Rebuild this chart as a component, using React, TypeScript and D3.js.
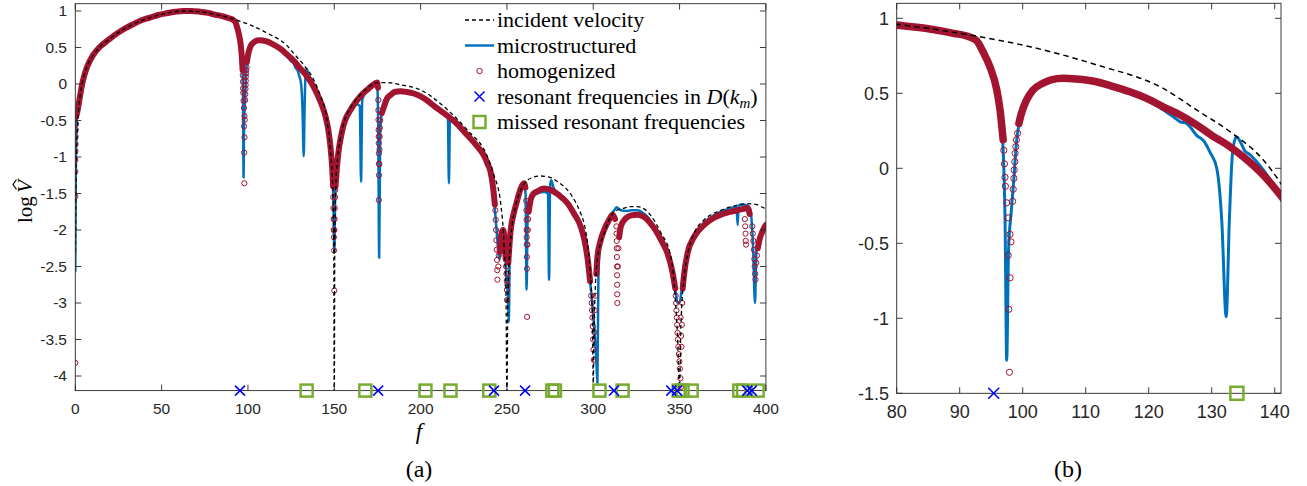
import React from "react";
import * as d3 from "d3";

// ---------------- data ----------------
const incF = [0.1,0.5,1,2,3,4.5,6.6,10,14.3,20,24,33.6,43.3,53,62.6,72.3,80,85,91.6,101.2,111.7,122.3,127.6,132.9,138.2,141.1,145.8,147.7,149.1,149.7,150,
  150.3,150.9,152,153.5,156.4,159.3,165,169,175,181,188,199.9,213.5,227,238.6,242.5,246.3,248.3,249.5,250,
  250.5,252,255,258,261.8,265,269.5,275,280,285,290,292.7,295.5,298,299.5,300,
  300.6,302.4,306.3,312.2,318,321.7,325.6,333.3,339,345,347,348.7,350,
  350.8,352.7,355,358.5,364.3,373.9,383.6,389,394,399,400];
const incV = [-2.3,-1.2,-0.75,-0.33,-0.13,0.06,0.23,0.38,0.51,0.62,0.69,0.82,0.91,0.97,1.0,0.99,0.96,0.933,0.889,0.81,0.69,0.533,0.389,0.244,0.055,-0.11,-0.5,-0.9,-1.4,-2.2,-4.5,
  -2.2,-1.4,-1.0,-0.75,-0.47,-0.33,-0.15,-0.06,0.02,0.02,-0.01,-0.08,-0.31,-0.63,-0.99,-1.25,-1.62,-2.2,-3.0,-4.5,
  -3.0,-2.18,-1.68,-1.45,-1.32,-1.28,-1.26,-1.28,-1.35,-1.45,-1.63,-1.77,-2.0,-2.5,-3.2,-4.1,
  -3.2,-2.4,-2.05,-1.75,-1.7,-1.68,-1.68,-1.8,-2.03,-2.37,-2.78,-3.4,-4.15,
  -3.3,-2.64,-2.3,-2.04,-1.86,-1.73,-1.66,-1.64,-1.65,-1.7,-1.71];

const microF = [0,0.3,0.6,1.2,2.7,4,6.6,10.4,14.3,19,24,33.6,43.3,53,62.6,72.3,80,85,89,91.6,92.7,93.7,94.8,95.9,96.4,96.9,97.2,97.46,97.75,98.2,98.6,99.0,99.4,100.6,101.6,103.2,106.4,111.7,117,120,122.3,124,125,126,127.6,128.8,129.7,130.8,131.6,132.3,132.8,133.3,133.9,134.5,135.2,136.1,138.2,141.1,
  143,145,146.5,147.8,148.8,149.5,150,150.5,151.6,152.5,153.5,155,156.4,159.3,162,163.5,164.8,165.5,166.2,169,172,174.8,175.4,176,176.6,177.5,178.8,180.5,182.6,188.4,196,200,207.7,213.5,215.8,216.4,217,220,227,232,236.7,238.2,239,240.5,242,243.5,245.8,246.8,247.8,248.8,249.7,250.5,251.1,251.6,252.2,254,256,258,259.9,260.8,261.4,262,263.7,265.5,267.6,271.5,273.8,274.4,275,275.6,277,280,285,289,292.7,295,296.6,298.5,300.5,301.8,302.4,303,304.3,306.3,309.2,311.2,312.5,313.5,316,318.9,322,325.6,328.5,331.4,334.5,337.3,340,343,346,347.5,348.8,350,351.3,352.7,354.6,358.5,364.3,373.9,380,383,383.6,384.2,385,389,391,392.5,393.7,394.5,396.2,398,400];
const microV = [-2.58,-1.2,-0.5,-0.38,-0.17,0,0.22,0.4,0.51,0.6,0.69,0.82,0.91,0.97,1.0,0.99,0.955,0.93,0.9,0.875,0.85,0.77,0.665,0.5,0.36,0.12,-0.35,-1.28,-0.55,-0.28,-0.07,0.17,0.29,0.45,0.515,0.565,0.597,0.57,0.5,0.45,0.39,0.34,0.31,0.3,0.22,0.18,0.11,0.0,-0.35,-0.99,-0.35,0.1,0.21,0.18,0.12,0.09,-0.01,-0.19,
  -0.3,-0.45,-0.62,-0.86,-1.15,-1.6,-2.3,-1.6,-1.13,-0.92,-0.77,-0.6,-0.49,-0.36,-0.26,-0.28,-0.3,-1.34,-0.22,-0.08,-0.02,0.01,-0.5,-2.38,-0.7,-0.4,-0.31,-0.2,-0.15,-0.1,-0.13,-0.17,-0.3,-0.4,-0.43,-1.36,-0.47,-0.52,-0.7,-0.83,-0.98,-1.12,-1.08,-1.2,-1.42,-1.85,-2.41,-2.05,-2.0,-2.2,-2.6,-2.9,-3.26,-2.35,-2.0,-1.77,-1.59,-1.43,-1.36,-1.5,-2.82,-1.8,-1.6,-1.53,-1.5,-1.48,-1.5,-2.68,-1.4,-1.32,-1.42,-1.52,-1.63,-1.78,-1.95,-2.15,-2.37,-2.78,-3.3,-3.8,-4.1,-2.6,-2.14,-2.0,-1.86,-1.76,-1.72,-1.69,-1.73,-1.74,-1.73,-1.73,-1.76,-1.82,-1.93,-2.05,-2.17,-2.32,-2.59,-2.8,-3.0,-3.0,-2.8,-2.59,-2.32,-2.07,-1.9,-1.75,-1.7,-1.68,-1.93,-1.68,-1.65,-1.66,-1.72,-2.2,-3.0,-2.3,-2.14,-2.02,-1.93];

// homogenized: dense markers forming a band (NaN = band interrupted at a dip)
const homF = [0.4,1.2,2,2.7,4,5,6.6,8.5,10.4,14.3,19,24,28,33.6,38,43.3,48,53,58,62.6,67,72.3,77,80,85,89,91.6,92.7,93.7,94.8,95.9,96.4,96.9,97.5,
  99.4,99.8,100.6,101.6,103.2,104.5,106.4,108.5,111.7,114,117,120,122.3,125,127.6,130,132.9,135.5,138.2,141.1,143,145,146.5,147.8,148.8,149.3,150,
  150.7,151.6,152.5,153.5,155,156.4,159.3,162,165,169,172,174.8,175.3,175.8,
  177.5,178.8,180.5,182.6,185,188.4,192,196,200,204,207.7,213.5,220,227,232,236.7,239,240.5,242,243,244,
  245.8,246.8,247.8,248.8,249.3,249.8,250.8,252,254,256,258,259.9,260.7,261.1,
  262.6,263.7,265.5,267.6,271.5,275.3,280,285,289,292.7,295,296.6,298.2,299,
  301.8,302.4,304.3,306.3,309.2,311.2,312.6,313.2,315,316,318.9,322,325.6,328.5,331.4,334.5,337.3,340,343,346,347.5,348,
  351.8,352.7,354.6,358.5,364.3,368,373.9,378,383.6,387,389.4,390.6,391.2,395.3,396.2,398,399,400];
const homV = [-0.45,-0.38,-0.27,-0.17,0.0,0.1,0.22,0.32,0.4,0.51,0.6,0.69,0.75,0.82,0.87,0.91,0.945,0.97,0.99,1.0,1.0,0.99,0.975,0.955,0.93,0.9,0.875,0.85,0.777,0.677,0.52,0.39,0.19,NaN,
  0.3,0.366,0.455,0.52,0.567,0.59,0.6,0.595,0.577,0.55,0.51,0.46,0.41,0.355,0.29,0.22,0.144,0.06,-0.045,-0.19,-0.3,-0.45,-0.62,-0.86,-1.15,-1.4,NaN,
  -1.4,-1.13,-0.92,-0.77,-0.6,-0.49,-0.36,-0.26,-0.17,-0.08,-0.02,0.02,-0.05,NaN,
  -0.4,-0.31,-0.2,-0.15,-0.11,-0.1,-0.11,-0.13,-0.17,-0.23,-0.3,-0.4,-0.52,-0.7,-0.83,-0.98,-1.1,-1.2,-1.42,-1.65,NaN,
  -2.3,-2.05,-2.0,-2.2,-2.4,NaN,-2.45,-2.04,-1.77,-1.59,-1.43,-1.36,-1.42,NaN,
  -1.75,-1.59,-1.5,-1.47,-1.43,-1.45,-1.52,-1.63,-1.78,-1.95,-2.15,-2.37,-2.7,NaN,
  -2.6,-2.37,-2.14,-2.0,-1.86,-1.79,-1.85,NaN,-2.1,-1.95,-1.84,-1.8,-1.79,-1.81,-1.86,-1.95,-2.05,-2.17,-2.32,-2.59,-2.8,NaN,
  -2.8,-2.59,-2.32,-2.09,-1.93,-1.86,-1.79,-1.76,-1.73,-1.71,-1.7,-1.78,NaN,-2.25,-2.14,-2.02,-1.97,-1.93];

// homogenized markers that stand apart in the dips
const homDipF = [0,0,0.03,0.06,0.1,0.14,0.2,0.26,0.33,
  97.0,97.1,97.19,97.25,97.45,97.7,97.98,98.14,97.7,98.0,97.8,97.9,98.4,98.5,98.6,98.65,98.75,98.8,98.9,99.0,99.2,
  149.4,149.5,149.6,149.7,149.8,149.9,150,150.1,150.2,150.3,150.45,150.6,
  175.5,175.55,175.6,175.65,175.7,175.75,175.8,175.85,175.9,175.8,176.1,176.2,176.3,176.4,176.6,
  243.3,243.5,243.7,243.9,244.1,244.3,244.4,244.5,245,245.3,
  249.5,249.7,249.9,250,250.1,250.3,250.5,
  261.2,261.3,261.35,261.4,261.45,261.5,261.55,261.6,261.7,261.9,262.1,262.3,
  298.8,299.1,299.3,299.5,299.7,299.9,300.1,300.3,300.6,300.9,301.2,
  313.4,313.5,313.6,313.65,313.7,313.75,313.8,313.85,313.9,313.95,314.3,314.6,
  347.8,348,348.2,348.4,348.6,348.8,349,349.3,349.6,349.9,350.2,350.5,350.8,351.1,351.3,351.5,350.9,350.6,
  387.8,388,388.2,388.3,388.5,
  392.1,392.4,392.7,393,393.3,393.5,393.8,394,394.4,394.8];
const homDipV = [-3.82,-1.54,-1.2,-1.04,-0.92,-0.82,-0.72,-0.63,-0.55,
  0.12,0.03,-0.06,-0.12,-0.23,-0.33,-0.44,-0.49,-0.58,-0.73,-0.94,-1.36,-0.22,-0.14,-0.067,-0.011,0.044,0.1,0.144,0.19,0.233,
  -1.55,-1.7,-1.85,-2.0,-2.1,-2.28,-2.83,-2.0,-1.85,-1.7,-1.55,-1.45,
  -0.22,-0.36,-0.49,-0.63,-0.72,-0.81,-0.95,-1.09,-1.25,-1.59,-1.1,-0.9,-0.72,-0.6,-0.5,
  -1.73,-1.86,-2.0,-2.14,-2.27,-2.41,-2.55,-2.68,-2.5,-2.35,
  -2.5,-2.6,-2.7,-2.82,-2.96,-2.75,-2.6,
  -1.6,-1.73,-1.86,-2.0,-2.1,-2.2,-2.37,-2.53,-3.19,-2.2,-2.0,-1.85,
  -2.9,-3.0,-3.1,-3.2,-3.32,-3.5,-3.64,-3.78,-3.4,-3.1,-2.9,
  -1.95,-2.05,-2.15,-2.25,-2.37,-2.5,-2.62,-2.75,-2.88,-3.0,-2.5,-2.25,
  -2.9,-3.0,-3.1,-3.2,-3.3,-3.41,-3.5,-3.6,-3.7,-3.8,-3.9,-4.03,-4.15,-3.6,-3.3,-3.0,-3.45,-3.2,
  -1.85,-1.95,-2.05,-2.15,-2.2,
  -1.95,-2.05,-2.15,-2.27,-2.4,-2.5,-2.6,-2.68,-2.45,-2.35];

const resonantF = [95.4,175.4,242.5,260.5,312,345.2,348.6,389.2,391.8];
const missedF = [134.0,168.0,202.8,217.3,239.8,276.3,277.8,303.6,317.0,349.5,351.7,357.0,384.6,386.8,395.2];

const xTicksA = [0,50,100,150,200,250,300,350,400];
const yTicksA = [-4,-3.5,-3,-2.5,-2,-1.5,-1,-0.5,0,0.5,1];
const xTicksB = [80,90,100,110,120,130,140];
const yTicksB = [-1.5,-1,-0.5,0,0.5,1];

const legendLabels = ["incident velocity","microstructured","homogenized","resonant frequencies in ","missed resonant frequencies"];

// ---------------- colours ----------------
const BLUE = "#0072BD";
const RED = "#A2142F";
const GREEN = "#77AC30";
const XBLUE = "#0000FF";
const AX = "#262626";

type P = {
  id: string; left: number; right: number; top: number; bottom: number;
  xDom: [number, number]; yDom: [number, number];
  xTicks: number[]; yTicks: number[];
  font: number; bandW: number; r: number; blueW: number; dashW: number; dash: string;
  xLabY: number; yLabX: number; mS: number; xS: number;
};

function fmt(v: number) { return String(v); }

function Panel(p: P) {
  const x = d3.scaleLinear().domain(p.xDom).range([p.left, p.right]);
  const y = d3.scaleLinear().domain(p.yDom).range([p.bottom, p.top]);
  const line = d3.line<[number, number]>()
    .defined(d => Number.isFinite(d[1]))
    .x(d => x(d[0])).y(d => y(d[1]))
    .curve(d3.curveMonotoneX);
  const zip = (F: number[], V: number[]) => F.map((f, i) => [f, V[i]] as [number, number]);
  const inc = line(zip(incF, incV)) || "";
  const mic = line(zip(microF, microV)) || "";
  const hom = line(zip(homF, homV)) || "";
  const dips = zip(homDipF, homDipV).filter(d => d[0] >= p.xDom[0] && d[0] <= p.xDom[1] && d[1] >= p.yDom[0] && d[1] <= p.yDom[1]);
  const yb = p.yDom[0];
  const res = resonantF.filter(f => f >= p.xDom[0] && f <= p.xDom[1]);
  const mis = missedF.filter(f => f >= p.xDom[0] && f <= p.xDom[1]);
  const tl = 6;
  const s = p.xS / 2;
  return (
    <g>
      <defs>
        <clipPath id={p.id}>
          <rect x={p.left} y={p.top} width={p.right - p.left} height={p.bottom - p.top} />
        </clipPath>
      </defs>
      <g clipPath={`url(#${p.id})`}>
        <path d={mic} fill="none" stroke={BLUE} strokeWidth={p.blueW} strokeLinejoin="round" />
        <path d={hom} fill="none" stroke={RED} strokeWidth={p.bandW} strokeLinejoin="round" strokeLinecap="round" />
        {dips.map((d, i) => (
          <circle key={i} cx={x(d[0])} cy={y(d[1])} r={p.r} fill="none" stroke={RED} strokeWidth={1} />
        ))}
        <path d={inc} fill="none" stroke="#000" strokeWidth={p.dashW} strokeDasharray={p.dash} />
      </g>
      <rect x={p.left} y={p.top} width={p.right - p.left} height={p.bottom - p.top} fill="none" stroke={AX} strokeWidth={0.9} />
      {p.xTicks.map(t => (
        <g key={"x" + t}>
          <line x1={x(t)} x2={x(t)} y1={p.bottom} y2={p.bottom - tl} stroke={AX} strokeWidth={0.9} />
          <line x1={x(t)} x2={x(t)} y1={p.top} y2={p.top + tl} stroke={AX} strokeWidth={0.9} />
          <text x={x(t)} y={p.xLabY} textAnchor="middle" fontSize={p.font} fontFamily="Liberation Sans, Arial, sans-serif" fill={AX}>{fmt(t)}</text>
        </g>
      ))}
      {p.yTicks.map(t => (
        <g key={"y" + t}>
          <line x1={p.left} x2={p.left + tl} y1={y(t)} y2={y(t)} stroke={AX} strokeWidth={0.9} />
          <line x1={p.right} x2={p.right - tl} y1={y(t)} y2={y(t)} stroke={AX} strokeWidth={0.9} />
          <text x={p.yLabX} y={y(t)} dy="0.35em" textAnchor="end" fontSize={p.font} fontFamily="Liberation Sans, Arial, sans-serif" fill={AX}>{fmt(t)}</text>
        </g>
      ))}
      {mis.map((f, i) => (
        <rect key={"m" + i} x={x(f) - p.mS / 2} y={y(yb) - p.mS / 2} width={p.mS} height={p.mS} fill="none" stroke={GREEN} strokeWidth={2.5} />
      ))}
      {res.map((f, i) => (
        <path key={"r" + i} d={`M${x(f) - s},${y(yb) - s}L${x(f) + s},${y(yb) + s}M${x(f) - s},${y(yb) + s}L${x(f) + s},${y(yb) - s}`} stroke={XBLUE} strokeWidth={1.5} fill="none" />
      ))}
    </g>
  );
}

function Legend() {
  const x0 = 465, x1 = 494, tx = 497;
  const rows = legendLabels.map((_, i) => 20 + 25.5 * i);
  const serif = "Liberation Serif, Times New Roman, serif";
  const xm = (x0 + x1) / 2;
  return (
    <g fontFamily={serif} fontSize={22} fill="#000">
      <line x1={x0} x2={x1} y1={rows[0]} y2={rows[0]} stroke="#000" strokeWidth={1.3} strokeDasharray="4,3" />
      <line x1={x0} x2={x1} y1={rows[1]} y2={rows[1]} stroke={BLUE} strokeWidth={2.5} />
      <circle cx={xm} cy={rows[2]} r={2.7} fill="none" stroke={RED} strokeWidth={1} />
      <path d={`M${xm - 5},${rows[3] - 5}L${xm + 5},${rows[3] + 5}M${xm - 5},${rows[3] + 5}L${xm + 5},${rows[3] - 5}`} stroke={XBLUE} strokeWidth={1.5} />
      <rect x={xm - 6} y={rows[4] - 6} width={12} height={12} fill="none" stroke={GREEN} strokeWidth={2.5} />
      {legendLabels.map((l, i) => (
        <text key={i} x={tx} y={rows[i] + 7}>
          {l}
          {i === 3 ? (
            <>
              <tspan fontStyle="italic">D</tspan>(<tspan fontStyle="italic">k</tspan>
              <tspan fontStyle="italic" fontSize={15} dy={4}>m</tspan>
              <tspan dy={-4}>)</tspan>
            </>
          ) : null}
        </text>
      ))}
    </g>
  );
}

export default function App() {
  const serif = "Liberation Serif, Times New Roman, serif";
  return (
    <svg width={1307} height={486} style={{ position: "absolute", left: 0, top: 0, background: "#fff" }}>
      <rect x={0} y={0} width={1307} height={486} fill="#fff" />
      <Panel id="clipA" left={75.3} right={765.9} top={3.7} bottom={390.6}
        xDom={[0, 400]} yDom={[-4.2, 1.1]} xTicks={xTicksA} yTicks={yTicksA}
        font={15.5} bandW={6} r={2.6} blueW={2.5} dashW={1.3} dash="4,3"
        xLabY={414} yLabX={67} mS={12} xS={10} />
      <Panel id="clipB" left={896.7} right={1281} top={3.3} bottom={393.3}
        xDom={[80, 141]} yDom={[-1.5, 1.1]} xTicks={xTicksB} yTicks={yTicksB}
        font={18} bandW={7.5} r={3.1} blueW={3} dashW={1.5} dash="5.5,4"
        xLabY={418} yLabX={889} mS={13} xS={11} />
      <Legend />
      <g transform="translate(32,202) rotate(-90)">
        <text x={-21} y={0} fontFamily={serif} fontSize={21} fill="#000">log</text>
        <text x={9} y={0} fontFamily={serif} fontStyle="italic" fontSize={21} fill="#000">V</text>
        <path d="M12.5,-15.5 L17.5,-19 L22.5,-15.5" fill="none" stroke="#000" strokeWidth={1.2} />
      </g>
      <text x={419} y={439} textAnchor="middle" fontFamily={serif} fontStyle="italic" fontSize={23}>f</text>
      <text x={419} y={477} textAnchor="middle" fontFamily={serif} fontSize={24}>(a)</text>
      <text x={1068} y={477} textAnchor="middle" fontFamily={serif} fontSize={24}>(b)</text>
    </svg>
  );
}
